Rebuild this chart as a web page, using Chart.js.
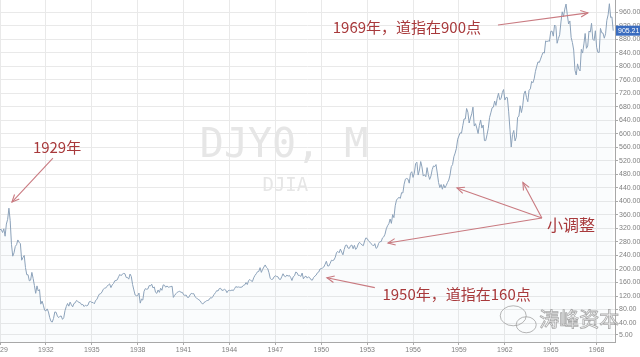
<!DOCTYPE html>
<html><head><meta charset="utf-8">
<script src="https://cdn.jsdelivr.net/npm/chart.js@4.4.0/dist/chart.umd.min.js"></script>
<style>html,body{margin:0;padding:0;background:#fff;overflow:hidden}#c{position:absolute;left:0;top:0}</style>
</head><body>
<canvas id="c" width="640" height="357"></canvas>
<script>
// Monthly closes of the DJIA, starting January 1929
const startYear = 1929;
const dow1929to1938 = [
 317,317,308,319,297,333,347,380,343,273,238,248,
 267,272,286,279,275,226,234,240,204,183,183,165,
 167,190,172,151,128,150,135,139,96,105,93,78,
 76,82,73,56,45,43,54,73,72,61,56,60,
 61,51,56,77,89,98,90,102,94,88,98,100,
 107,104,101,100,94,95,89,93,91,93,103,104,
 101,101,97,107,110,119,126,127,132,140,143,144,
 149,153,156,145,153,157,165,166,168,177,184,180,
 185,187,186,175,175,170,185,178,154,138,123,121,
 121,129,99,111,108,134,142,140,141,151,150,155];
const dow1939to1948 = [
 144,147,131,128,138,131,143,137,153,152,146,150,
 146,147,148,149,116,122,127,131,133,134,131,131,
 124,122,123,116,116,123,128,127,127,118,115,111,
 109,106,100,96,101,103,106,107,109,115,114,119,
 125,130,136,135,142,143,137,137,140,138,130,136,
 137,136,138,136,142,148,146,147,146,146,147,152,
 153,160,154,166,169,165,163,174,181,186,192,193,
 204,190,199,206,212,205,201,189,172,169,170,177,
 180,178,177,170,169,177,186,179,177,182,179,181,
 175,166,177,180,191,189,181,181,178,188,171,177];
const dow1949to1958 = [
 179,173,177,174,168,167,175,179,182,189,191,200,
 201,203,206,214,223,209,209,217,226,225,227,235,
 249,252,248,259,250,242,258,270,271,262,261,269,
 271,260,270,258,263,274,279,275,271,269,283,292,
 290,284,280,275,272,268,275,261,264,276,281,281,
 292,295,303,319,328,334,348,335,361,352,387,404,
 409,412,409,426,425,451,466,468,466,454,483,488,
 471,484,512,516,478,493,518,502,475,479,473,500,
 479,465,475,494,505,503,509,484,456,441,450,436,
 450,440,447,456,463,478,503,509,532,543,557,584];
const dow1959to1969 = [
 594,603,602,624,644,644,675,664,632,647,659,679,
 623,630,617,601,625,641,617,626,580,580,597,616,
 648,662,677,679,697,684,705,720,701,704,722,731,
 700,708,707,665,614,561,598,610,579,590,649,652,
 683,663,683,718,727,707,695,729,733,755,751,763,
 785,800,813,811,821,832,841,839,875,873,875,874,
 903,904,889,922,918,868,882,893,931,961,947,969,
 984,952,925,934,885,870,848,788,774,807,792,786,
 850,839,866,897,853,860,904,901,927,880,876,905,
 856,841,841,912,899,898,883,896,936,952,985,944,
 946,905.21];
const lastValue = 905.21;
const xTickYears = [1929,1932,1935,1938,1941,1944,1947,1950,1953,1956,1959,1962,1965,1968];
const yTickValues = [5,40,80,120,160,200,240,280,320,360,400,440,480,520,560,600,640,680,720,760,800,840,880,920,960];

// annotations in data coordinates (year, index value)
const noteTexts = ['1929年','1969年，道指在900点','小调整','1950年，道指在160点'];
const noteYears = [1931.15, 1950.75, 1964.75, 1954.0];
const noteValues = [561, 916, 330, 126];
const arrowFrom = [[1932.46,528],[1961.55,922],[1964.42,351],[1964.42,351],[1964.42,351],[1953.5,145]];
const arrowTo   = [[1929.78,398],[1967.43,958],[1963.18,456],[1958.87,440],[1954.36,277],[1950.37,174]];

const allValues = [...dow1929to1938, ...dow1939to1948, ...dow1949to1958, ...dow1959to1969];
const points = allValues.map((v,i)=>({x: startYear + i/12, y: v}));

const bgPlugin = {
  id:'bg',
  beforeDatasetsDraw(chart){
    const {ctx, chartArea:a} = chart;
    ctx.save();
    ctx.fillStyle = '#e6e6e6';
    ctx.textAlign = 'center'; ctx.textBaseline = 'middle';
    ctx.font = '40px "DejaVu Sans Mono"';
    ctx.fillText('DJY0, M', a.left + a.width*0.462, a.top + a.height*0.43);
    ctx.font = '19px "DejaVu Sans Mono"';
    ctx.fillText('DJIA', a.left + a.width*0.464, a.top + a.height*0.545);
    ctx.restore();
  }
};

function arrow(ctx, x1,y1,x2,y2){
  ctx.beginPath(); ctx.moveTo(x1,y1); ctx.lineTo(x2,y2); ctx.stroke();
  const ang = Math.atan2(y2-y1, x2-x1), L = 8, w = 0.42;
  ctx.beginPath();
  ctx.moveTo(x2 - L*Math.cos(ang-w), y2 - L*Math.sin(ang-w));
  ctx.lineTo(x2,y2);
  ctx.lineTo(x2 - L*Math.cos(ang+w), y2 - L*Math.sin(ang+w));
  ctx.stroke();
}

const notePlugin = {
  id:'notes',
  afterDraw(chart){
    const {ctx, chartArea:a} = chart;
    const xs = chart.scales.x, ys = chart.scales.y;
    ctx.save();
    ctx.strokeStyle = '#c97a80'; ctx.lineWidth = 1.1;
    arrowFrom.forEach((f,i)=>{
      const t = arrowTo[i];
      arrow(ctx, xs.getPixelForValue(f[0]), ys.getPixelForValue(f[1]), xs.getPixelForValue(t[0]), ys.getPixelForValue(t[1]));
    });
    ctx.fillStyle = '#a8393b';
    ctx.textAlign = 'left'; ctx.textBaseline = 'middle';
    noteTexts.forEach((s,i)=>{
      ctx.font = (i===2 ? '16px' : '15px') + ' "Noto Sans CJK SC"';
      ctx.fillText(s, xs.getPixelForValue(noteYears[i]), ys.getPixelForValue(noteValues[i]));
    });
    // wechat-style watermark
    const wx = a.left + a.width*0.815, wy = a.top + a.height*0.935;
    ctx.strokeStyle = 'rgba(150,150,150,0.7)'; ctx.lineWidth = 1;
    ctx.beginPath(); ctx.ellipse(wx+12, wy-4, 13, 10, 0, 0, Math.PI*2); ctx.stroke();
    ctx.beginPath(); ctx.ellipse(wx+25, wy+5, 10, 8, 0, 0, Math.PI*2); ctx.stroke();
    ctx.font = '20px "Noto Sans CJK SC"';
    ctx.fillStyle = 'rgba(255,255,255,0.6)';
    ctx.fillText('涛峰资本', wx+38, wy);
    ctx.lineWidth = 0.8; ctx.strokeStyle = 'rgba(140,140,140,0.75)';
    ctx.strokeText('涛峰资本', wx+38, wy);
    // last value tag
    const ly = ys.getPixelForValue(lastValue);
    ctx.fillStyle = '#3a6cbf';
    ctx.fillRect(a.right+1, ly-5, chart.width - a.right - 1, 10);
    ctx.fillStyle = '#fff';
    ctx.font = '7px "Liberation Sans"';
    ctx.fillText(lastValue.toFixed(2), a.right+3, ly+0.5);
    ctx.restore();
  }
};

new Chart(document.getElementById('c'), {
  type:'line',
  data:{datasets:[{
    data: points,
    borderColor:'#8ca2ba', borderWidth:1, pointRadius:0, tension:0,
    fill:'start', backgroundColor:'rgba(175,198,225,0.06)'
  }]},
  options:{
    responsive:false, animation:false, devicePixelRatio:1,
    layout:{padding:0},
    plugins:{legend:{display:false}, tooltip:{enabled:false}},
    scales:{
      x:{
        type:'linear', min:1929, max:1969.2,
        afterBuildTicks:s=>{ s.ticks = xTickYears.map(v=>({value:v})); },
        afterFit:s=>{ s.height = 15; s.paddingLeft = 0; s.paddingRight = 0; },
        grid:{color:'#e9e9e9', tickLength:3, tickColor:'#aaa'},
        border:{color:'#a8a8a8'},
        ticks:{font:{family:'Liberation Sans', size:7}, color:'#808080', maxRotation:0, autoSkip:false, padding:1, callback:v=>String(v)}
      },
      y:{
        position:'right', min:-16, max:996,
        afterBuildTicks:s=>{ s.ticks = yTickValues.map(v=>({value:v})); },
        afterFit:s=>{ s.width = 25; s.paddingTop = 0; s.paddingBottom = 0; },
        grid:{color:'#e9e9e9', tickLength:3, tickColor:'#aaa'},
        border:{color:'#a8a8a8'},
        ticks:{font:{family:'Liberation Sans', size:7}, color:'#808080', padding:1, autoSkip:false, callback:v=>v.toFixed(2)}
      }
    }
  },
  plugins:[bgPlugin, notePlugin]
});
</script>
</body></html>
